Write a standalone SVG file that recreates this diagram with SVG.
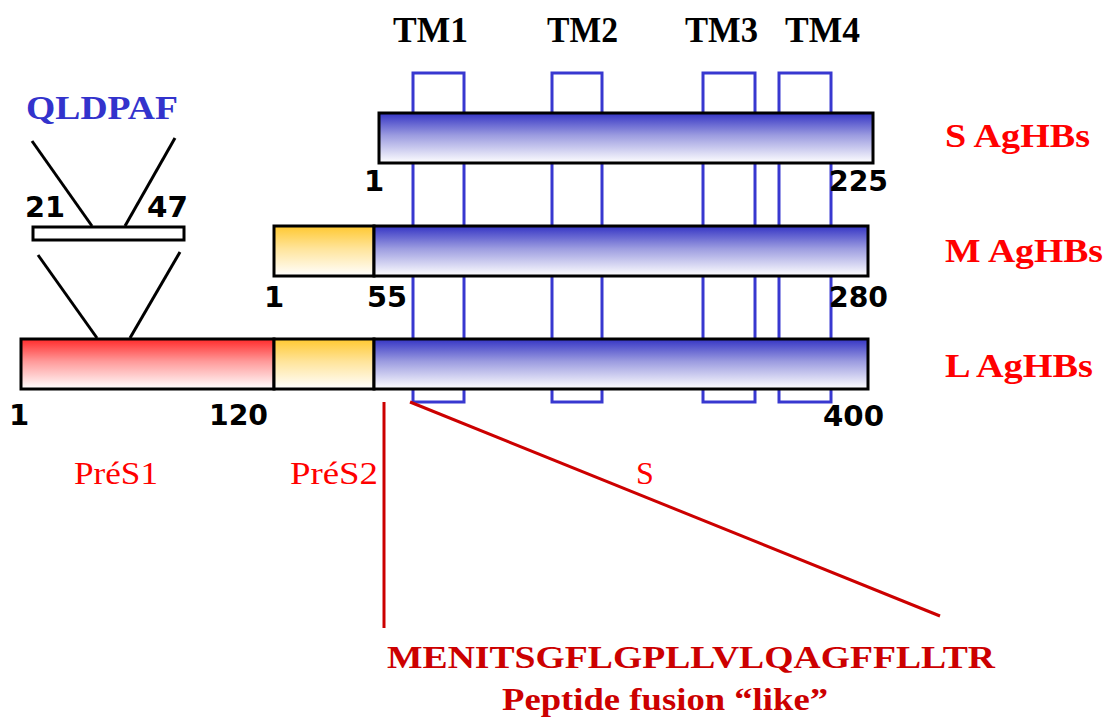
<svg xmlns="http://www.w3.org/2000/svg" width="1107" height="717" viewBox="0 0 1107 717">
<defs>
<linearGradient id="gBlue" x1="0" y1="0" x2="0" y2="1">
<stop offset="0" stop-color="#3434C4"/>
<stop offset="0.45" stop-color="#9C9CE0"/>
<stop offset="1" stop-color="#FFFFFF"/>
</linearGradient>
<linearGradient id="gRed" x1="0" y1="0" x2="0" y2="1">
<stop offset="0" stop-color="#FF2A2A"/>
<stop offset="0.45" stop-color="#FF9A9A"/>
<stop offset="1" stop-color="#FFFFFF"/>
</linearGradient>
<linearGradient id="gYel" x1="0" y1="0" x2="0" y2="1">
<stop offset="0" stop-color="#FFC830"/>
<stop offset="0.45" stop-color="#FFE49A"/>
<stop offset="1" stop-color="#FFFFFF"/>
</linearGradient>
</defs>
<style>
.tm{fill:none;stroke:#3838D0;stroke-width:3}
.bar{stroke:#000;stroke-width:3}
.blk{stroke:#000;stroke-width:3;fill:none}
.red{stroke:#CC0000;stroke-width:3;fill:none}
.ser{font-family:"Liberation Serif","Times New Roman",serif;font-weight:bold}
.num{font-family:"DejaVu Sans",Verdana,sans-serif;font-weight:bold;font-size:29px;fill:#000}
.lab{font-size:33px;fill:#FF0000}
.pre{font-family:"Liberation Serif","Times New Roman",serif;font-size:32px;fill:#FF0000}
</style>
<rect width="1107" height="717" fill="#FFFFFF"/>

<g id="tm-boxes">
<rect class="tm" x="413" y="73" width="51" height="329"/>
<rect class="tm" x="552" y="73" width="50" height="329"/>
<rect class="tm" x="703" y="73" width="52" height="329"/>
<rect class="tm" x="779" y="73" width="52" height="329"/>
<text class="ser" x="393" y="42" font-size="35" textLength="75" lengthAdjust="spacingAndGlyphs">TM1</text>
<text class="ser" x="547" y="42" font-size="35" textLength="71" lengthAdjust="spacingAndGlyphs">TM2</text>
<text class="ser" x="685" y="42" font-size="35" textLength="73" lengthAdjust="spacingAndGlyphs">TM3</text>
<text class="ser" x="785" y="42" font-size="35" textLength="75" lengthAdjust="spacingAndGlyphs">TM4</text>
</g>

<g id="s-protein">
<rect class="bar" x="379" y="113" width="494" height="50" fill="url(#gBlue)"/>
<text class="num" x="364" y="191">1</text>
<text class="num" x="829" y="191" textLength="59" lengthAdjust="spacingAndGlyphs">225</text>
<text class="ser lab" x="945" y="147" textLength="145" lengthAdjust="spacingAndGlyphs">S AgHBs</text>
</g>

<g id="m-protein">
<rect class="bar" x="274" y="226" width="100" height="50" fill="url(#gYel)"/>
<rect class="bar" x="374" y="226" width="494" height="50" fill="url(#gBlue)"/>
<text class="num" x="264" y="307">1</text>
<text class="num" x="367" y="307" textLength="40" lengthAdjust="spacingAndGlyphs">55</text>
<text class="num" x="829" y="307" textLength="59" lengthAdjust="spacingAndGlyphs">280</text>
<text class="ser lab" x="945" y="262" textLength="158" lengthAdjust="spacingAndGlyphs">M AgHBs</text>
</g>

<g id="l-protein">
<rect class="bar" x="21" y="339" width="253" height="50" fill="url(#gRed)"/>
<rect class="bar" x="274" y="339" width="100" height="50" fill="url(#gYel)"/>
<rect class="bar" x="374" y="339" width="494" height="50" fill="url(#gBlue)"/>
<text class="num" x="9" y="425">1</text>
<text class="num" x="209" y="425" textLength="59" lengthAdjust="spacingAndGlyphs">120</text>
<text class="num" x="823" y="426" textLength="61" lengthAdjust="spacingAndGlyphs">400</text>
<text class="ser lab" x="945" y="377" textLength="148" lengthAdjust="spacingAndGlyphs">L AgHBs</text>
</g>

<g id="epitope">
<rect class="bar" x="33" y="227" width="151" height="13" fill="#FFFFFF"/>
<text class="num" x="25" y="217" textLength="40" lengthAdjust="spacingAndGlyphs">21</text>
<text class="num" x="147" y="217" textLength="41" lengthAdjust="spacingAndGlyphs">47</text>
<text class="ser" x="26" y="119" font-size="33" fill="#3333CC" textLength="152" lengthAdjust="spacingAndGlyphs">QLDPAF</text>
</g>

<g id="domain-labels">
<text class="pre" x="74" y="484" textLength="84" lengthAdjust="spacingAndGlyphs">PréS1</text>
<text class="pre" x="290" y="484" textLength="88" lengthAdjust="spacingAndGlyphs">PréS2</text>
<text class="pre" x="636" y="484">S</text>
</g>

<g id="peptide">
<text class="ser" x="387" y="668" font-size="32" fill="#CC0000" textLength="608" lengthAdjust="spacingAndGlyphs">MENITSGFLGPLLVLQAGFFLLTR</text>
<text class="ser" x="502" y="710" font-size="32" fill="#CC0000" textLength="326" lengthAdjust="spacingAndGlyphs">Peptide fusion “like”</text>
</g>

<g id="connectors">
<line class="blk" x1="32" y1="141" x2="92" y2="226"/>
<line class="blk" x1="175" y1="138" x2="125" y2="226"/>
<line class="blk" x1="38" y1="255" x2="97" y2="338"/>
<line class="blk" x1="180" y1="252" x2="130" y2="338"/>
<line class="red" x1="384" y1="402" x2="384" y2="628"/>
<line class="red" x1="410" y1="402" x2="940" y2="616"/>
</g>
</svg>
